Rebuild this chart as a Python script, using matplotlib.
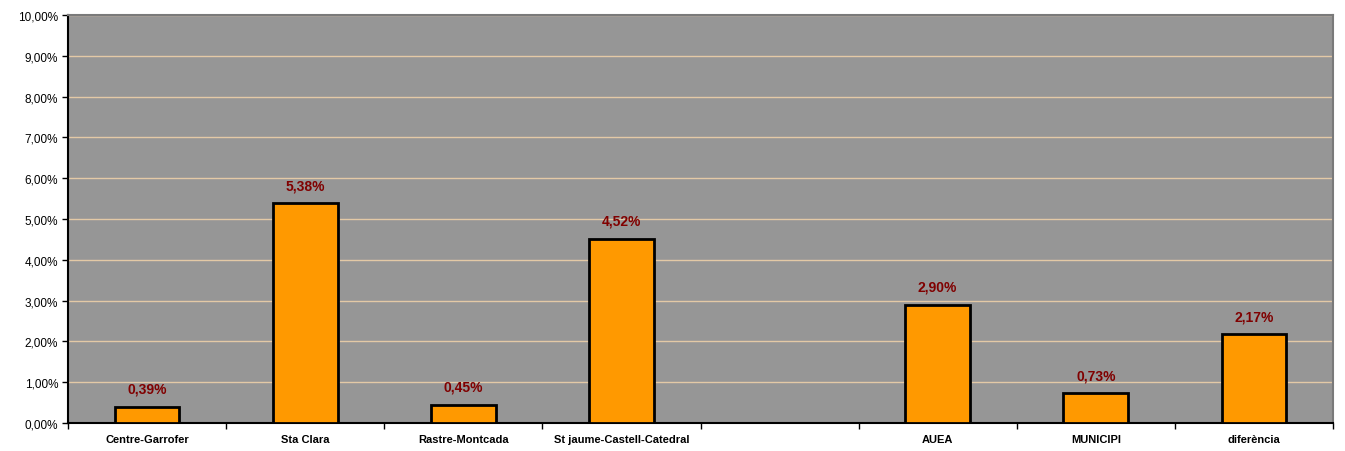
import numpy as np
import matplotlib
import matplotlib.pyplot as plt
from matplotlib.ticker import FixedLocator, FuncFormatter

matplotlib.use("Agg")

categories = ["Centre-Garrofer", "Sta Clara", "Rastre-Montcada",
              "St jaume-Castell-Catedral", "", "AUEA", "MUNICIPI", "diferència"]
values = [0.39, 5.38, 0.45, 4.52, None, 2.90, 0.73, 2.17]

BG = "#969696"
BAR = "#FF9900"
GRID = "#E3C9A6"
LABEL = "#800000"

plt.rcParams["font.family"] = ["Liberation Sans", "DejaVu Sans"]

fig = plt.figure(figsize=(13.45, 4.52), dpi=100)
ax = fig.add_axes([68 / 1345, 28 / 452, (1333 - 68) / 1345, (424 - 16) / 452])
ax.set_facecolor(BG)

x = np.arange(len(categories))
for xi, v in zip(x, values):
    if v is None:
        continue
    ax.bar(xi, v, width=0.41, color=BAR, edgecolor="black", linewidth=2, zorder=3)
    ax.annotate(f"{v:.2f}%".replace(".", ","), (xi, v), xytext=(0, 8),
                textcoords="offset points", ha="center", va="bottom",
                color=LABEL, fontsize=10, fontweight="bold")

ax.set_xlim(-0.5, len(categories) - 0.5)
ax.set_ylim(0, 10)
ax.set_yticks(np.arange(0, 11, 1))
ax.yaxis.set_major_formatter(FuncFormatter(lambda v, p: f"{v:.2f}%".replace(".", ",")))
ax.grid(axis="y", color=GRID, linewidth=1, zorder=0)

# category boundaries get the tick marks, names sit in between
ax.xaxis.set_major_locator(FixedLocator(np.arange(-0.5, len(categories), 1)))
ax.xaxis.set_minor_locator(FixedLocator(x))
ax.set_xticklabels([""] * (len(categories) + 1))
ax.set_xticklabels(categories, minor=True, fontsize=8, fontweight="bold")
ax.tick_params(axis="x", which="major", length=4, width=1, direction="out")
ax.tick_params(axis="x", which="minor", length=0, pad=8)
ax.tick_params(axis="y", length=4, width=1, labelsize=8.5, pad=3)

for side in ("left", "bottom"):
    ax.spines[side].set_color("black")
    ax.spines[side].set_linewidth(1.5)
for side in ("top", "right"):
    ax.spines[side].set_color("#7a7a7a")
    ax.spines[side].set_linewidth(1.5)

fig.savefig("out.png", dpi=100, facecolor="white")
